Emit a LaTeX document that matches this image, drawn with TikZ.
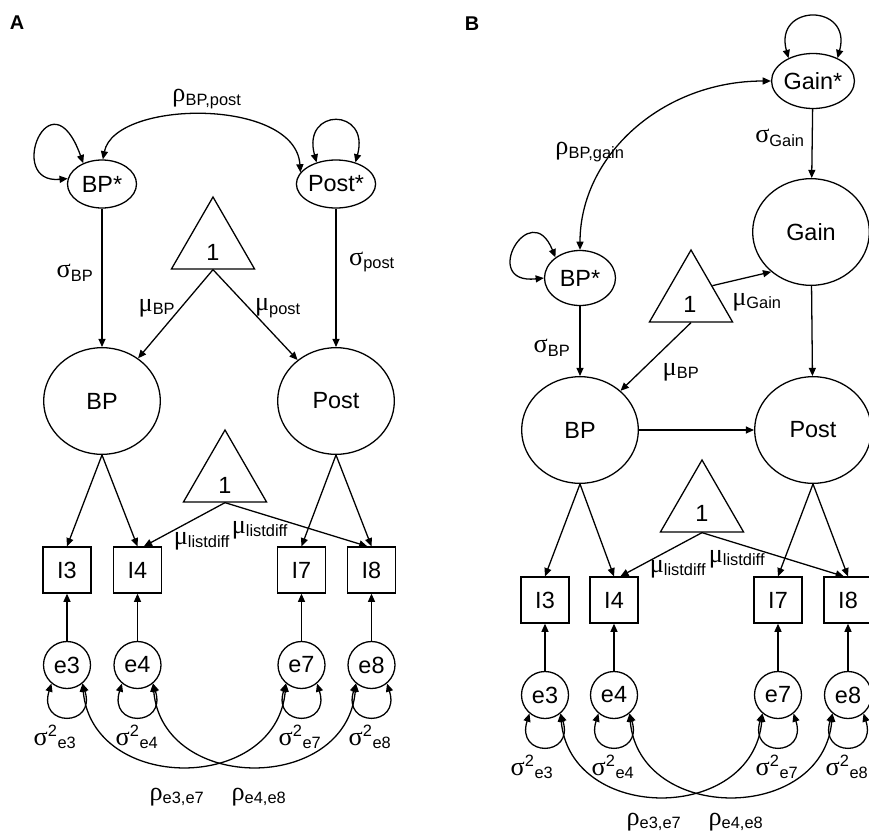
\documentclass[tikz,border=0pt]{standalone}
\usepackage{fontspec}
\setmainfont{Liberation Sans}
\newfontfamily\gk{Liberation Serif}[Scale=1.12]
\usetikzlibrary{arrows.meta,shapes.geometric}

\begin{document}
\begin{tikzpicture}[x=0.03cm,y=0.03cm,line width=1.1pt,
	every node/.style={font=\fontsize{20}{23}\selectfont},
	starvar/.style={draw,ellipse,minimum width=2.07cm,minimum height=1.44cm,inner sep=0pt},
	latent/.style={draw,ellipse,minimum width=3.5cm,minimum height=3.2cm,inner sep=0pt},
	ind/.style={draw,rectangle,minimum width=1.44cm,minimum height=1.38cm,inner sep=0pt},
	err/.style={draw,circle,minimum size=1.41cm,inner sep=0pt},
	const/.style={draw,regular polygon,regular polygon sides=3,minimum size=2.88cm,inner sep=0pt},
	reg/.style={-{Triangle[length=7pt,width=6pt]}},
	cov/.style={{Triangle[length=7pt,width=6pt]}-{Triangle[length=7pt,width=6pt]}},
	panel/.style={font=\fontsize{17}{20}\bfseries\selectfont}]

	\useasboundingbox (0,0) rectangle (869,-837);

	% ---- panel labels

	\node[panel] (Alab) at (17,-23) {A};
	\node[panel] (Blab) at (472,-24) {B};

	% ---- panel A : latent part

	\node[starvar] (AbpS) at (102,-184) {BP*};
	\node[starvar] (ApostS) at (336,-184) {Post*};
	\node[latent] (Abp) at (102,-401) {BP};
	\node[latent] (Apost) at (336,-401) {Post};
	\node[const] (Atri) at (213,-245) {};
	\node (Aone) at (213,-252) {1};
	\node[const] (Atrib) at (225,-478) {};
	\node (Aoneb) at (225,-485) {1};

	% ---- panel B : latent part

	\node[starvar,minimum width=2.13cm,minimum height=1.65cm] (BgainS) at (813,-81) {Gain*};
	\node[starvar,minimum width=2.13cm,minimum height=1.65cm] (BbpS) at (580,-278) {BP*};
	\node[latent] (Bgain) at (811,-232) {Gain};
	\node[latent] (Bbp) at (580,-430) {BP};
	\node[latent] (Bpost) at (813,-430) {Post};
	\node[const] (Btri) at (691,-298) {};
	\node (Bone) at (690,-304) {1};
	\node[const] (Btrib) at (702,-508) {};
	\node (Boneb) at (702,-513) {1};

	% ---- indicators and residuals

	\foreach \i/\x in {3/67,4/137.5,7/301.5,8/371.5} {
		\node[ind] (Ai\i) at (\x,-570) {I\i};
		\node[err] (Ae\i) at (\x,-665) {e\i};
	}
	\foreach \i/\x in {3/545,4/614,7/778,8/848} {
		\node[ind] (Bi\i) at (\x,-600) {I\i};
		\node[err] (Be\i) at (\x,-695) {e\i};
	}

	% ---- variances and covariances

	\draw[cov] (AbpS.171) .. controls +(-63,-6) and +(-33,92) .. (AbpS.132);
	\draw[cov] (ApostS.132) .. controls +(-15,55) and +(15,55) .. (ApostS.48);
	\draw[cov] (AbpS.88) .. controls +(12,60) and +(-5,75) .. (ApostS.162);

	\draw[cov] (BbpS.180) .. controls +(-65,-7) and +(-25,62) .. (BbpS.140);
	\draw[cov] (BgainS.137) .. controls +(-15,55) and +(15,55) .. (BgainS.43);
	\draw[cov] (BbpS.north) .. controls +(0,94) and +(-109,0) .. (BgainS.west);

	\foreach \p in {A,B} {
		\foreach \i in {3,4,7,8} {
			\draw[cov] (\p e\i.230) .. controls +(-14,-44) and +(14,-44) .. (\p e\i.310);
			\draw[reg] (\p e\i) -- (\p i\i);
		}
		\draw[cov] (\p e3.310) .. controls +(10,-110) and +(-10,-110) .. (\p e7.230);
		\draw[cov] (\p e4.310) .. controls +(10,-110) and +(-10,-110) .. (\p e8.230);
	}

	% ---- regressions A

	\draw[reg] (AbpS) -- (Abp);
	\draw[reg] (ApostS) -- (Apost);
	\draw[reg] (Atri.side 2) -- (Abp);
	\draw[reg] (Atri.side 2) -- (Apost);
	\draw[reg] (Abp.south) -- (Ai3.north);
	\draw[reg] (Abp.south) -- (Ai4.north);
	\draw[reg] (Apost.south) -- (Ai7.north);
	\draw[reg] (Apost.south) -- (Ai8.north);
	\draw[reg] (Atrib.side 2) -- (Ai4.75);
	\draw[reg] (Atrib.side 2) -- (Ai8.100);

	% ---- regressions B

	\draw[reg] (BgainS) -- (Bgain);
	\draw[reg] (Bgain) -- (Bpost);
	\draw[reg] (BbpS) -- (Bbp);
	\draw[reg] (Bbp) -- (Bpost);
	\draw[reg] (Btri.side 3) -- (Bgain.-135);
	\draw[reg] (Btri.side 2) -- (Bbp);
	\draw[reg] (Bbp.south) -- (Bi3.north);
	\draw[reg] (Bbp.south) -- (Bi4.north);
	\draw[reg] (Bpost.south) -- (Bi7.north);
	\draw[reg] (Bpost.south) -- (Bi8.north);
	\draw[reg] (Btrib.side 2) -- (Bi4.75);
	\draw[reg] (Btrib.side 2) -- (Bi8.100);

	% ---- parameter labels A

	\node (ArhoBP) at (207,-99) {{\gk ρ}\textsubscript{BP,post}};
	\node (AsigBP) at (75,-273) {{\gk σ}\textsubscript{BP}};
	\node (AsigPost) at (372,-262) {{\gk σ}\textsubscript{post}};
	\node (AmuBP) at (157,-308) {{\gk μ}\textsubscript{BP}};
	\node (AmuPost) at (278,-308) {{\gk μ}\textsubscript{post}};
	\node (AmuL) at (202,-541) {{\gk μ}\textsubscript{listdiff}};
	\node (AmuR) at (260,-530) {{\gk μ}\textsubscript{listdiff}};
	\foreach \i/\x in {3/55,4/137,7/300,8/370} {
		\node (Avar\i) at (\x,-737) {{\gk σ}\textsuperscript{2}\textsubscript{e\i}};
	}
	\node (Arho37) at (177,-797) {{\gk ρ}\textsubscript{e3,e7}};
	\node (Arho48) at (259,-797) {{\gk ρ}\textsubscript{e4,e8}};

	% ---- parameter labels B

	\node (BrhoBP) at (590,-152) {{\gk ρ}\textsubscript{BP,gain}};
	\node (BsigGain) at (780,-138) {{\gk σ}\textsubscript{Gain}};
	\node (BmuGain) at (757,-302) {{\gk μ}\textsubscript{Gain}};
	\node (BsigBP) at (552,-348) {{\gk σ}\textsubscript{BP}};
	\node (BmuBP) at (681,-372) {{\gk μ}\textsubscript{BP}};
	\node (BmuL) at (678,-569) {{\gk μ}\textsubscript{listdiff}};
	\node (BmuR) at (737,-559) {{\gk μ}\textsubscript{listdiff}};
	\foreach \i/\x in {3/532,4/613,7/777,8/847} {
		\node (Bvar\i) at (\x,-767) {{\gk σ}\textsuperscript{2}\textsubscript{e\i}};
	}
	\node (Brho37) at (654,-822) {{\gk ρ}\textsubscript{e3,e7}};
	\node (Brho48) at (736,-822) {{\gk ρ}\textsubscript{e4,e8}};

\end{tikzpicture}
\end{document}
